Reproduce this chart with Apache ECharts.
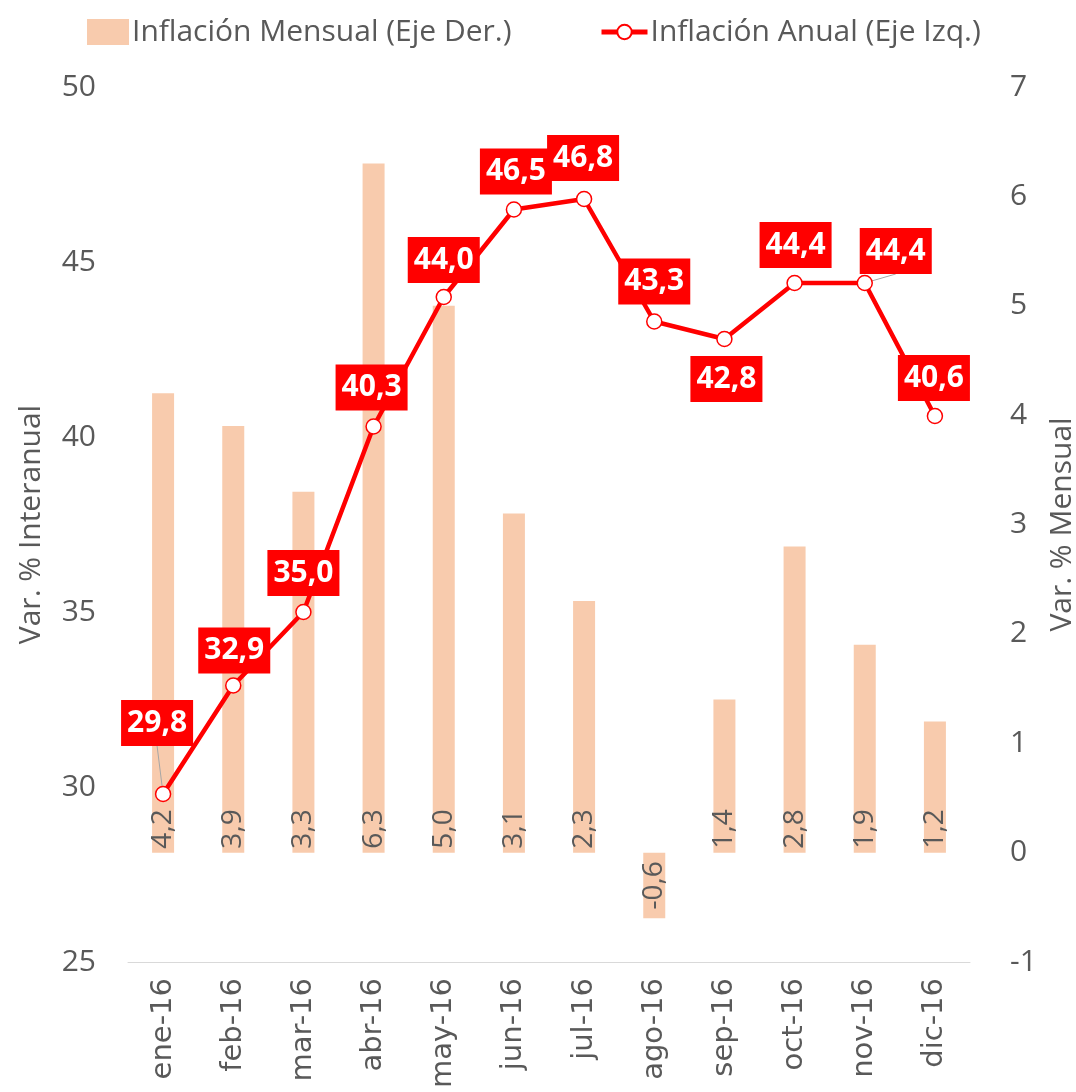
<!DOCTYPE html>
<html>
<head>
<meta charset="utf-8">
<script src="https://cdn.jsdelivr.net/npm/echarts@6/dist/echarts.min.js"></script>
<style>
  html, body { margin: 0; padding: 0; background: #fff; }
  #chart { width: 1076px; height: 1092px; }
</style>
</head>
<body>
<div id="chart"></div>
<script>
var months = ['ene-16', 'feb-16', 'mar-16', 'abr-16', 'may-16', 'jun-16', 'jul-16', 'ago-16', 'sep-16', 'oct-16', 'nov-16', 'dic-16'];
var mensual = [4.2, 3.9, 3.3, 6.3, 5.0, 3.1, 2.3, -0.6, 1.4, 2.8, 1.9, 1.2];
var anual = [29.8, 32.9, 35.0, 40.3, 44.0, 46.5, 46.8, 43.3, 42.8, 44.4, 44.4, 40.6];

// where each callout sits relative to its point, and which ones get a leader line
var labelOffsets = [[-6, -71], [1, -35], [0, -39], [-2, -39], [0, -37], [2, -38], [-1, -41], [0, -40], [2, 40], [1, -38], [31, -32], [-1, -38]];
var withLeader = [0, 10];

var fontMain = "'Open Sans', sans-serif";
var gray = '#595959';

var fmt = function(v) {
    return v.toFixed(1).replace('.', ',');
};

var chart = echarts.init(document.getElementById('chart'));

var legendText = {color: gray, fontSize: 30, fontFamily: fontMain, padding: [0, 0, 0, -2]};

var option = {
    animation: false,
    legend: [
        {
            top: 12,
            left: 82,
            itemWidth: 42,
            itemHeight: 26,
            textStyle: legendText,
            data: [{name: 'Inflación Mensual (Eje Der.)', icon: 'rect'}]
        },
        {
            top: 12,
            left: 594,
            itemWidth: 46,
            itemHeight: 18,
            textStyle: legendText,
            data: [{name: 'Inflación Anual (Eje Izq.)', lineStyle: {width: 5}}]
        }
    ],
    grid: {left: 128, right: 106, top: 87, bottom: 130, outerBoundsMode: 'none'},
    xAxis: {
        type: 'category',
        data: months,
        axisLine: {onZero: false, lineStyle: {color: '#d9d9d9', width: 1}},
        axisTick: {show: false},
        axisLabel: {rotate: 90, color: gray, fontSize: 29, fontFamily: "'DejaVu Sans', sans-serif", margin: 16}
    },
    yAxis: [
        {
            type: 'value', min: 25, max: 50, interval: 5,
            name: 'Var. % Interanual', nameLocation: 'middle', nameGap: 82, nameRotate: 90,
            nameTextStyle: {color: gray, fontSize: 30, fontFamily: fontMain},
            splitLine: {show: false},
            axisLine: {show: false},
            axisLabel: {color: gray, fontSize: 30, fontFamily: fontMain, margin: 32}
        },
        {
            type: 'value', min: -1, max: 7, interval: 1,
            name: 'Var. % Mensual', nameLocation: 'middle', nameGap: 76, nameRotate: 90,
            nameTextStyle: {color: gray, fontSize: 30, fontFamily: fontMain},
            splitLine: {show: false},
            axisLine: {show: false},
            axisLabel: {color: gray, fontSize: 30, fontFamily: fontMain, margin: 40}
        }
    ],
    series: [
        {
            name: 'Inflación Mensual (Eje Der.)',
            type: 'bar',
            yAxisIndex: 1,
            barWidth: 22,
            itemStyle: {color: '#f8cbad'},
            label: {
                show: true,
                position: 'insideBottom',
                rotate: 90,
                align: 'left',
                verticalAlign: 'middle',
                distance: 4,
                color: gray,
                fontSize: 28,
                fontFamily: fontMain,
                formatter: function(p) { return fmt(p.value); }
            },
            data: mensual.map(function(v) {
                if (v < 0) {
                    return {value: v, label: {position: 'inside', align: 'center'}};
                }
                return v;
            }),
            z: 1
        },
        {
            name: 'Inflación Anual (Eje Izq.)',
            type: 'line',
            yAxisIndex: 0,
            symbol: 'circle',
            symbolSize: 15,
            lineStyle: {color: '#ff0000', width: 4.5},
            itemStyle: {color: '#fff', borderColor: '#ff0000', borderWidth: 1.5},
            label: {
                show: true,
                position: 'inside',
                backgroundColor: '#ff0000',
                color: '#fff',
                fontWeight: 'bold',
                fontSize: 30,
                fontFamily: fontMain,
                padding: [9, 6, 7, 6]
            },
            labelLine: {show: false},
            labelLayout: function(p) {
                var o = labelOffsets[p.dataIndex];
                return {dx: o[0], dy: o[1]};
            },
            data: anual.map(function(v, i) {
                var item = {
                    value: v,
                    label: {formatter: fmt(v)}
                };
                if (withLeader.indexOf(i) >= 0) {
                    item.labelLine = {show: true, lineStyle: {color: '#a6a6a6', width: 1}};
                }
                return item;
            }),
            z: 3
        }
    ]
};

chart.setOption(option);
</script>
</body>
</html>
